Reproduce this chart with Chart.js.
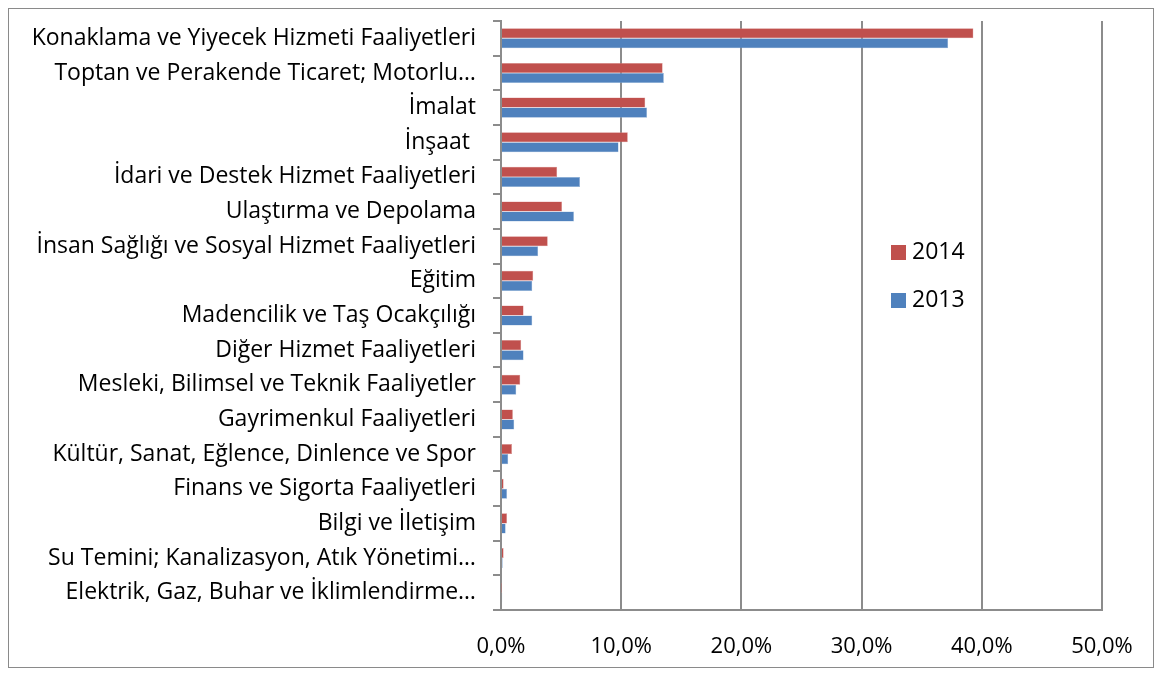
<!DOCTYPE html>
<html>
<head>
<meta charset="utf-8">
<script src="https://cdn.jsdelivr.net/npm/chart.js@4"></script>
<style>
    body { margin: 0; background: #fff; font-family: 'Open Sans', sans-serif; }
    #frame { position: absolute; left: 8px; top: 8px; width: 1146px; height: 660px;
             border: 1px solid #8a8a8a; box-sizing: border-box; }
    #frame canvas { display: block; }
    .leg { position: absolute; left: 891px; font-size: 23px; color: #000; line-height: 22px; }
    .leg i { display: inline-block; width: 15px; height: 15px; vertical-align: -1px; margin-right: 6px; }
</style>
</head>
<body>
<div id="frame"><canvas id="sectorChart" width="1144" height="658"></canvas></div>
<div class="leg" style="top:239px"><i style="background:#C0504D"></i>2014</div>
<div class="leg" style="top:287px"><i style="background:#4F81BD"></i>2013</div>
<script>
// sektörler
const sectors = [
    'Konaklama ve Yiyecek Hizmeti Faaliyetleri',
    'Toptan ve Perakende Ticaret; Motorlu…',
    'İmalat',
    'İnşaat ',
    'İdari ve Destek Hizmet Faaliyetleri',
    'Ulaştırma ve Depolama',
    'İnsan Sağlığı ve Sosyal Hizmet Faaliyetleri',
    'Eğitim',
    'Madencilik ve Taş Ocakçılığı',
    'Diğer Hizmet Faaliyetleri',
    'Mesleki, Bilimsel ve Teknik Faaliyetler',
    'Gayrimenkul Faaliyetleri',
    'Kültür, Sanat, Eğlence, Dinlence ve Spor',
    'Finans ve Sigorta Faaliyetleri',
    'Bilgi ve İletişim',
    'Su Temini; Kanalizasyon, Atık Yönetimi…',
    'Elektrik, Gaz, Buhar ve İklimlendirme…'
];
const values2014 = [39.3, 13.45, 12.0, 10.55, 4.67, 5.08, 3.89, 2.68, 1.88, 1.68, 1.6, 0.99, 0.91, 0.22, 0.5, 0.22, 0.03];
const values2013 = [37.2, 13.55, 12.15, 9.78, 6.57, 6.07, 3.09, 2.6, 2.6, 1.88, 1.27, 1.1, 0.6, 0.5, 0.39, 0.14, 0.1];
const xTicks = [0, 10, 20, 30, 40, 50];

const axisGray = '#8c8c8c';
const labelFont = { family: "'Open Sans', sans-serif", size: 23 };

new Chart(document.getElementById('sectorChart'), {
    type: 'bar',
    data: {
        labels: sectors,
        datasets: [
            { label: '2014', data: values2014, backgroundColor: '#C0504D', borderColor: '#D9908E', borderWidth: 0.5 },
            { label: '2013', data: values2013, backgroundColor: '#4F81BD', borderColor: '#95B3D7', borderWidth: 0.5 }
        ]
    },
    options: {
        indexAxis: 'y',
        responsive: false,
        animation: false,
        categoryPercentage: 0.58,
        barPercentage: 1,
        layout: { padding: { top: 12, right: 51, left: 0, bottom: 0 } },
        plugins: {
            legend: { display: false },
            tooltip: { enabled: false }
        },
        scales: {
            x: {
                min: 0,
                max: 50,
                afterBuildTicks: function(scale) {
                    scale.ticks = xTicks.map(v => ({ value: v }));
                },
                afterFit: function(scale) {
                    scale.height = 57;
                    scale.paddingLeft = 0;
                    scale.paddingRight = 0;
                },
                border: { display: true, color: axisGray, width: 2 },
                grid: { color: axisGray, lineWidth: 2, drawTicks: false },
                ticks: {
                    padding: 24,
                    color: '#000',
                    font: { family: labelFont.family, size: 22 },
                    callback: v => v.toFixed(1).replace('.', ',') + '%'
                }
            },
            y: {
                afterFit: function(scale) {
                    scale.width = 492;
                    scale.paddingTop = 0;
                    scale.paddingBottom = 0;
                },
                border: { display: true, color: axisGray, width: 2 },
                grid: { drawOnChartArea: false, color: axisGray, lineWidth: 2, tickLength: 8 },
                ticks: { padding: 17, color: '#000', font: labelFont, autoSkip: false }
            }
        }
    }
});
</script>
</body>
</html>
